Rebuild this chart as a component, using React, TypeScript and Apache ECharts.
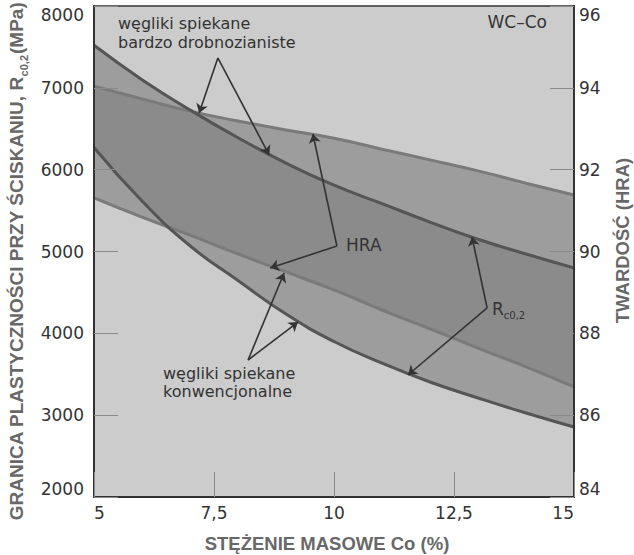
import React, { useEffect, useRef } from "react";
import * as echarts from "echarts";

// ---- data ----
const coPct = [5, 6, 7, 8, 9, 10, 11, 12, 13, 14, 15];
// Rc0,2 [MPa] – fine-grained cemented carbides (upper curve)
const rcFine = [7520, 7100, 6730, 6390, 6080, 5810, 5585, 5360, 5150, 4970, 4800];
// Rc0,2 [MPa] – conventional cemented carbides (lower curve)
const rcConv = [6270, 5617, 5070, 4645, 4235, 3900, 3635, 3405, 3210, 3026, 2855];
// HRA – fine-grained
const hraFine = [94.04, 93.73, 93.43, 93.19, 92.97, 92.77, 92.5, 92.24, 91.97, 91.67, 91.38];
// HRA – conventional
const hraConv = [91.31, 90.84, 90.4, 89.94, 89.5, 89.06, 88.57, 88.11, 87.64, 87.18, 86.69];

const xTicks = [5, 7.5, 10, 12.5, 15];
const mpaTicks = [2000, 3000, 4000, 5000, 6000, 7000, 8000];
const hraTicks = [84, 86, 88, 90, 92, 94, 96];

// annotation arrows: [vertex, target] in [Co %, MPa]
const arrowsFine = [
  [[7.58, 7365], [7.19, 6692]],
  [[7.58, 7365], [8.65, 6179]],
];
const arrowsHra = [
  [[10.06, 5067], [9.56, 6436]],
  [[10.06, 5067], [8.67, 4798]],
];
const arrowsRc = [
  [[13.19, 4310], [12.875, 5177]],
  [[13.19, 4310], [11.54, 3491]],
];
const arrowsConv = [
  [[8.21, 3674], [8.96, 4737]],
  [[8.21, 3674], [9.25, 4138]],
];

const FONT = "DejaVu Sans";
const BOLD_FONT = "Liberation Sans";

export default function App() {
  const ref = useRef<HTMLDivElement>(null);

  useEffect(() => {
    if (!ref.current) return;
    const chart = echarts.init(ref.current, undefined, { renderer: "svg" });

    const pair = (xs: number[], ys: number[]) => xs.map((x, i) => [x, ys[i]]);

    const bandColor = "rgba(128,128,128,0.61)";
    const arrows = [...arrowsFine, ...arrowsHra, ...arrowsRc, ...arrowsConv];

    // band between two curves, drawn as a polygon through the axis scales
    const band = (axis: number, upper: number[], lower: number[]) => ({
      type: "custom",
      coordinateSystem: "cartesian2d",
      xAxisIndex: 0,
      yAxisIndex: axis,
      silent: true,
      z: 2,
      data: [[coPct[0], lower[0]]],
      renderItem: (_params: any, api: any) => {
        const top = coPct.map((x, i) => api.coord([x, upper[i]]));
        const bottom = coPct.map((x, i) => api.coord([x, lower[i]])).reverse();
        return {
          type: "polygon",
          shape: { points: [...top, ...bottom] },
          style: { fill: bandColor, stroke: "none" },
        };
      },
    });

    chart.setOption({
      animation: false,
      backgroundColor: "#ffffff",
      grid: {
        left: 94,
        right: 60,
        top: 6,
        bottom: 58,
        show: true,
        z: 0,
        outerBoundsMode: "none",
        containLabel: false,
        backgroundColor: "#cccccc",
        borderColor: "#333333",
        borderWidth: 1.5,
      },
      xAxis: {
        type: "value",
        min: 5,
        max: 15,
        interval: 2.5,
        z: 5,
        name: "STĘŻENIE MASOWE Co (%)",
        nameLocation: "middle",
        nameGap: 37,
        nameTextStyle: {
          fontFamily: BOLD_FONT,
          fontSize: 18.5,
          fontWeight: "bold",
          color: "#686868",
          padding: [0, 14, 0, 0],
        },
        axisLine: { show: true, lineStyle: { color: "#333333", width: 2 } },
        axisTick: { show: true, inside: true, length: 25, lineStyle: { color: "#8a8a8a", width: 1 } },
        splitLine: { show: false },
        axisLabel: {
          fontFamily: FONT,
          fontSize: 17,
          color: "#333333",
          margin: 7,
          alignMinLabel: "left",
          alignMaxLabel: "right",
          customValues: xTicks,
          formatter: (v: number) => String(v).replace(".", ","),
        },
      },
      yAxis: [
        {
          type: "value",
          min: 2000,
          max: 8000,
          interval: 1000,
          position: "left",
          z: 5,
          name: "GRANICA PLASTYCZNOŚCI PRZY ŚCISKANIU, R{sub|c0,2}(MPa)",
          nameLocation: "middle",
          nameRotate: 90,
          nameGap: 66,
          nameTextStyle: {
            fontFamily: BOLD_FONT,
            fontSize: 19,
            fontWeight: "bold",
            color: "#686868",
            padding: [0, 20, 0, 0],
            rich: {
              sub: {
                fontFamily: BOLD_FONT,
                fontSize: 11,
                fontWeight: "bold",
                color: "#686868",
                verticalAlign: "bottom",
                padding: [0, 1, -4, 0],
              },
            },
          },
          axisLine: { show: true, lineStyle: { color: "#333333", width: 2 } },
          axisTick: { show: true, inside: true, length: 24, lineStyle: { color: "#8a8a8a", width: 1 } },
          splitLine: { show: false },
          axisLabel: {
            fontFamily: FONT,
            fontSize: 17,
            color: "#333333",
            margin: 10,
            verticalAlignMinLabel: "bottom",
            verticalAlignMaxLabel: "top",
            customValues: mpaTicks,
            formatter: (v: number) => String(v),
          },
        },
        {
          type: "value",
          min: 84,
          max: 96,
          interval: 2,
          position: "right",
          z: 5,
          name: "TWARDOŚĆ (HRA)",
          nameLocation: "middle",
          nameRotate: 90,
          nameGap: 39,
          nameTextStyle: {
            fontFamily: BOLD_FONT,
            fontSize: 18.5,
            fontWeight: "bold",
            color: "#686868",
            padding: [0, 0, 0, 22],
          },
          axisLine: { show: true, lineStyle: { color: "#333333", width: 2 } },
          axisTick: { show: true, inside: true, length: 24, lineStyle: { color: "#8a8a8a", width: 1 } },
          splitLine: { show: false },
          axisLabel: {
            fontFamily: FONT,
            fontSize: 17,
            color: "#333333",
            margin: 5,
            verticalAlignMinLabel: "bottom",
            verticalAlignMaxLabel: "top",
            customValues: hraTicks,
            formatter: (v: number) => String(v),
          },
        },
      ],
      series: [
        band(0, rcFine, rcConv),
        band(1, hraFine, hraConv),
        // HRA lines
        {
          name: "HRA drobnoziarniste",
          type: "line",
          yAxisIndex: 1,
          data: pair(coPct, hraFine),
          smooth: true,
          symbol: "none",
          lineStyle: { color: "#7a7a7a", width: 3 },
          z: 3,
        },
        {
          name: "HRA konwencjonalne",
          type: "line",
          yAxisIndex: 1,
          data: pair(coPct, hraConv),
          smooth: true,
          symbol: "none",
          lineStyle: { color: "#7a7a7a", width: 3 },
          z: 3,
        },
        // Rc lines
        {
          name: "Rc0,2 drobnoziarniste",
          type: "line",
          yAxisIndex: 0,
          data: pair(coPct, rcFine),
          smooth: true,
          symbol: "none",
          lineStyle: { color: "#555555", width: 3 },
          z: 4,
        },
        {
          name: "Rc0,2 konwencjonalne",
          type: "line",
          yAxisIndex: 0,
          data: pair(coPct, rcConv),
          smooth: true,
          symbol: "none",
          lineStyle: { color: "#555555", width: 3 },
          z: 4,
        },
        // arrows
        {
          type: "lines",
          coordinateSystem: "cartesian2d",
          xAxisIndex: 0,
          yAxisIndex: 0,
          symbol: ["none", "arrow"],
          symbolSize: 9,
          lineStyle: { color: "#333333", width: 1.6, opacity: 1, curveness: 0 },
          data: arrows.map((a) => ({ coords: a })),
          silent: true,
          z: 6,
        },
      ],
      graphic: [
        {
          type: "text",
          left: 118,
          top: 14,
          z: 10,
          style: {
            text: "węgliki spiekane\nbardzo drobnozianiste",
            font: `16px "${FONT}"`,
            lineHeight: 19,
            fill: "#333333",
          },
        },
        {
          type: "text",
          left: 346,
          top: 236,
          z: 10,
          style: { text: "HRA", font: `17px "${FONT}"`, fill: "#333333" },
        },
        {
          type: "text",
          right: 87,
          top: 13,
          z: 10,
          style: { text: "WC–Co", font: `17px "${FONT}"`, fill: "#333333" },
        },
        {
          type: "text",
          left: 492,
          top: 300,
          z: 10,
          style: {
            text: "R{s|c0,2}",
            font: `17px "${FONT}"`,
            fill: "#333333",
            rich: {
              s: { font: `10px "${FONT}"`, fill: "#333333", verticalAlign: "bottom", padding: [0, 0, -3, 0] },
            },
          },
        },
        {
          type: "text",
          left: 163,
          top: 364,
          z: 10,
          style: {
            text: "węgliki spiekane\nkonwencjonalne",
            font: `16px "${FONT}"`,
            lineHeight: 18,
            fill: "#333333",
          },
        },
      ],
    });

    return () => chart.dispose();
  }, []);

  return (
    <div
      ref={ref}
      style={{ position: "fixed", left: 0, top: 0, width: 634, height: 555 }}
    />
  );
}
